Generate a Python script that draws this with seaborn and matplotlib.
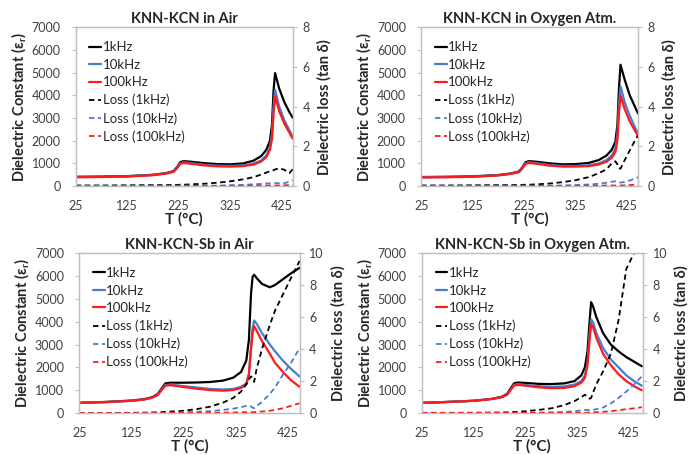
import matplotlib
matplotlib.use('Agg')
import matplotlib.pyplot as plt
import seaborn as sns

sns.set_theme(style='white')
plt.rcParams['font.family'] = ['Lato', 'DejaVu Sans']
plt.rcParams['mathtext.fontset'] = 'custom'
plt.rcParams['mathtext.rm'] = 'Lato'
plt.rcParams['mathtext.bf'] = 'Lato:bold'

# ---- KNN-KCN in Air ----
t_air = [25, 75, 125, 175, 200, 215, 222, 228, 235, 250, 275, 300, 325, 350, 370,
         385, 395, 402, 406, 409, 412, 420, 430, 440, 446]
air_1k = [410, 420, 440, 500, 570, 660, 850, 1060, 1100, 1070, 1010, 970, 960, 1000, 1120,
          1320, 1600, 2000, 2700, 4200, 4980, 4300, 3700, 3250, 3020]
air_10k = [400, 410, 430, 490, 560, 640, 820, 1010, 1050, 1010, 940, 900, 890, 910, 990,
           1130, 1350, 1700, 2300, 3500, 4250, 3500, 2900, 2450, 2200]
air_100k = [390, 400, 420, 480, 550, 630, 800, 990, 1020, 980, 910, 870, 860, 880, 950,
            1080, 1280, 1600, 2100, 3200, 3950, 3300, 2750, 2350, 2100]
air_loss_1k = [0.03, 0.03, 0.04, 0.05, 0.05, 0.06, 0.06, 0.07, 0.07, 0.09, 0.12, 0.17, 0.24, 0.34, 0.45,
               0.58, 0.68, 0.75, 0.78, 0.80, 0.84, 0.90, 0.82, 0.66, 0.85]
air_loss_10k = [0.02, 0.02, 0.02, 0.02, 0.02, 0.02, 0.02, 0.02, 0.02, 0.02, 0.02, 0.02, 0.04, 0.06, 0.09,
                0.11, 0.13, 0.14, 0.15, 0.15, 0.15, 0.14, 0.15, 0.22, 0.30]
air_loss_100k = [0.01, 0.01, 0.01, 0.01, 0.01, 0.01, 0.01, 0.01, 0.01, 0.01, 0.01, 0.01, 0.02, 0.02, 0.02,
                 0.03, 0.03, 0.03, 0.03, 0.03, 0.03, 0.03, 0.04, 0.05, 0.06]

# ---- KNN-KCN in Oxygen Atm. ----
t_oxy = [25, 75, 125, 175, 200, 215, 222, 228, 235, 250, 275, 300, 325, 350, 370,
         385, 395, 402, 406, 409, 412, 420, 430, 440, 446]
oxy_1k = [400, 410, 430, 490, 560, 650, 850, 1060, 1100, 1070, 1000, 960, 970, 1020, 1150,
          1350, 1600, 1950, 2700, 4300, 5350, 4700, 4000, 3500, 3200]
oxy_10k = [390, 400, 420, 480, 550, 630, 820, 1010, 1050, 1010, 930, 890, 890, 920, 1000,
           1150, 1350, 1650, 2300, 3600, 4400, 3700, 3100, 2600, 2300]
oxy_100k = [380, 390, 410, 470, 540, 620, 800, 990, 1020, 980, 900, 860, 860, 880, 950,
            1080, 1250, 1500, 2000, 3200, 4000, 3400, 2850, 2450, 2200]
oxy_loss_1k = [0.03, 0.03, 0.04, 0.05, 0.05, 0.06, 0.06, 0.07, 0.07, 0.09, 0.13, 0.20, 0.30, 0.45, 0.65,
               0.85, 1.15, 1.25, 1.10, 0.90, 0.88, 1.30, 1.80, 2.30, 2.55]
oxy_loss_10k = [0.02, 0.02, 0.02, 0.02, 0.02, 0.02, 0.02, 0.02, 0.02, 0.02, 0.02, 0.03, 0.05, 0.08, 0.12,
                0.17, 0.22, 0.24, 0.22, 0.18, 0.18, 0.20, 0.28, 0.38, 0.45]
oxy_loss_100k = [0.01, 0.01, 0.01, 0.01, 0.01, 0.01, 0.01, 0.01, 0.01, 0.01, 0.01, 0.01, 0.02, 0.02, 0.02,
                 0.03, 0.03, 0.03, 0.03, 0.03, 0.03, 0.04, 0.05, 0.07, 0.08]

# ---- KNN-KCN-Sb in Air ----
t_sb_air = [25, 75, 125, 150, 165, 175, 182, 190, 200, 225, 250, 275, 300, 320, 335, 345,
            350, 354, 357, 360, 365, 375, 390, 400, 415, 430, 447]
sb_air_1k = [450, 490, 550, 610, 700, 830, 1050, 1300, 1330, 1330, 1340, 1360, 1420, 1550, 1800, 2300,
             3200, 5200, 5950, 6050, 5900, 5650, 5500, 5600, 5850, 6100, 6350]
sb_air_10k = [450, 480, 540, 600, 680, 800, 1000, 1230, 1250, 1180, 1120, 1060, 1030, 1060, 1150, 1300,
              1700, 2800, 3700, 4050, 3900, 3500, 3000, 2700, 2300, 1950, 1600]
sb_air_100k = [450, 480, 540, 600, 680, 790, 990, 1200, 1220, 1140, 1070, 1010, 980, 1010, 1100, 1250,
               1700, 2800, 3500, 3800, 3600, 3150, 2600, 2200, 1800, 1450, 1150]
sb_air_loss_1k = [0.00, 0.01, 0.02, 0.03, 0.04, 0.05, 0.06, 0.08, 0.10, 0.15, 0.25, 0.40, 0.65, 0.95, 1.35, 1.80,
                  2.10, 2.30, 2.20, 1.95, 2.80, 4.00, 5.50, 6.40, 7.40, 8.40, 9.50]
sb_air_loss_10k = [0.00, 0.00, 0.00, 0.01, 0.01, 0.01, 0.02, 0.02, 0.03, 0.05, 0.08, 0.12, 0.20, 0.28, 0.38, 0.45,
                   0.48, 0.42, 0.35, 0.30, 0.45, 0.70, 1.20, 1.60, 2.40, 3.10, 4.05]
sb_air_loss_100k = [0.00, 0.00, 0.00, 0.00, 0.00, 0.00, 0.00, 0.01, 0.01, 0.01, 0.01, 0.02, 0.03, 0.04, 0.05, 0.06,
                    0.06, 0.06, 0.06, 0.06, 0.08, 0.10, 0.15, 0.20, 0.30, 0.45, 0.62]

# ---- KNN-KCN-Sb in Oxygen Atm. ----
t_sb_oxy = [25, 75, 125, 160, 180, 190, 197, 203, 210, 225, 250, 275, 300, 320, 333, 340,
            345, 349, 352, 356, 362, 375, 390, 405, 420, 435, 450]
sb_oxy_1k = [450, 490, 540, 620, 720, 850, 1100, 1300, 1340, 1320, 1280, 1270, 1300, 1400, 1650, 2000,
             2700, 4000, 4850, 4650, 4200, 3500, 3000, 2700, 2450, 2250, 2050]
sb_oxy_10k = [450, 490, 540, 620, 700, 820, 1050, 1240, 1260, 1230, 1180, 1150, 1170, 1250, 1400, 1650,
              2200, 3400, 4100, 3950, 3500, 2850, 2350, 2000, 1650, 1400, 1200]
sb_oxy_100k = [450, 490, 540, 620, 700, 810, 1030, 1200, 1230, 1200, 1130, 1090, 1100, 1180, 1330, 1550,
               2100, 3200, 3900, 3750, 3300, 2600, 2100, 1700, 1400, 1180, 1000]
sb_oxy_loss_1k = [0.00, 0.01, 0.02, 0.03, 0.04, 0.05, 0.06, 0.07, 0.08, 0.12, 0.20, 0.30, 0.50, 0.75, 1.00, 1.15,
                  1.00, 0.90, 0.95, 1.30, 1.80, 2.60, 3.70, 5.80, 9.00, 10.0, 10.0]
sb_oxy_loss_10k = [0.02, 0.02, 0.02, 0.02, 0.02, 0.02, 0.02, 0.02, 0.02, 0.02, 0.02, 0.05, 0.08, 0.12, 0.17, 0.20,
                   0.20, 0.18, 0.18, 0.20, 0.25, 0.35, 0.60, 0.95, 1.35, 1.80, 2.30]
sb_oxy_loss_100k = [0.02, 0.02, 0.02, 0.02, 0.02, 0.02, 0.02, 0.02, 0.02, 0.02, 0.02, 0.02, 0.02, 0.02, 0.02, 0.02,
                    0.03, 0.04, 0.05, 0.05, 0.06, 0.08, 0.12, 0.18, 0.25, 0.30, 0.37]

labels = ['1kHz', '10kHz', '100kHz', 'Loss (1kHz)', 'Loss (10kHz)', 'Loss (100kHz)']
colors = ['#000000', '#4A7BD0', '#FF1A1A']
x_ticks = [25, 125, 225, 325, 425]

GRID = '#BFBFBF'
TICKC = '#404040'


def draw_panel(fig, rect, title, t, eps, loss, xmax, loss_max):
    ax = fig.add_axes(rect)
    ax2 = ax.twinx()
    for vals, c, lab in zip(eps, colors, labels[:3]):
        sns.lineplot(x=t, y=vals, ax=ax, color=c, lw=1.6, label=lab, legend=False)
    for vals, c, lab in zip(loss, colors, labels[3:]):
        sns.lineplot(x=t, y=vals, ax=ax2, color=c, lw=1.3, label=lab, legend=False,
                     linestyle=(0, (3, 2)))
    ax.set_xlim(25, xmax)
    ax.set_ylim(0, 7000)
    ax2.set_ylim(0, loss_max)
    ax.set_xticks(x_ticks)
    ax.set_yticks(range(0, 7001, 1000))
    ax2.set_yticks(range(0, loss_max + 1, 2))
    for a in (ax, ax2):
        for s in a.spines.values():
            s.set_color(GRID)
            s.set_linewidth(0.9)
        a.tick_params(colors=GRID, labelcolor=TICKC, labelsize=9, length=3, width=0.8)
    ax.tick_params(axis='x', pad=7)
    ax.tick_params(axis='y', pad=8)
    ax2.tick_params(axis='y', pad=4)
    ax.set_title(title, fontsize=10.5, fontweight='bold', pad=3)
    ax.set_xlabel('T (°C)', fontsize=11, fontweight='bold', labelpad=0)
    ax.set_ylabel(r'Dielectric Constant (ε$_\mathbf{r}$)', fontsize=10.5, fontweight='bold', labelpad=2)
    ax2.set_ylabel('Dielectric loss (tan δ)', fontsize=10.5, fontweight='bold', labelpad=5)
    h1, l1 = ax.get_legend_handles_labels()
    h2, l2 = ax2.get_legend_handles_labels()
    ax2.legend(h1 + h2, l1 + l2, loc='upper left', bbox_to_anchor=(0.02, 0.97), frameon=False,
               fontsize=9.5, handlelength=0.9, handletextpad=0.1, labelspacing=0.42, borderpad=0.2)
    return ax


fig = plt.figure(figsize=(6.95, 4.55), dpi=100)
draw_panel(fig, [0.109, 0.591, 0.312, 0.349], 'KNN-KCN in Air', t_air,
           [air_1k, air_10k, air_100k], [air_loss_1k, air_loss_10k, air_loss_100k], 446, 8)
draw_panel(fig, [0.606, 0.591, 0.312, 0.349], 'KNN-KCN in Oxygen Atm.', t_oxy,
           [oxy_1k, oxy_10k, oxy_100k], [oxy_loss_1k, oxy_loss_10k, oxy_loss_100k], 446, 8)
draw_panel(fig, [0.114, 0.092, 0.317, 0.352], 'KNN-KCN-Sb in Air', t_sb_air,
           [sb_air_1k, sb_air_10k, sb_air_100k], [sb_air_loss_1k, sb_air_loss_10k, sb_air_loss_100k], 447, 10)
draw_panel(fig, [0.607, 0.092, 0.318, 0.352], 'KNN-KCN-Sb in Oxygen Atm.', t_sb_oxy,
           [sb_oxy_1k, sb_oxy_10k, sb_oxy_100k], [sb_oxy_loss_1k, sb_oxy_loss_10k, sb_oxy_loss_100k], 452, 10)

fig.savefig('out.png', dpi=100)
